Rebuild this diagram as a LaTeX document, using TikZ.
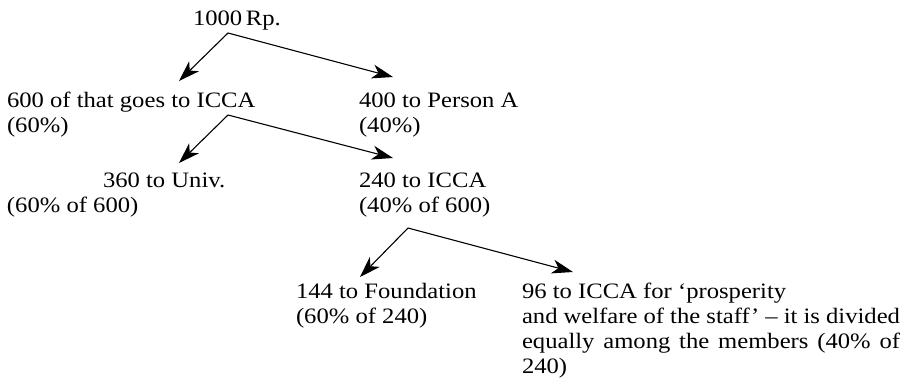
\documentclass[tikz,border=0pt]{standalone}
\usepackage{fontspec}
\setmainfont[FakeStretch=1.12]{Liberation Serif}
\usetikzlibrary{arrows.meta}
\begin{document}
\begin{tikzpicture}[x=1pt,y=-1pt,
  lbl/.style={anchor=base west,inner sep=0pt,outer sep=0pt,font=\fontsize{22}{25}\selectfont},
  flow/.style={line width=1.1pt,-{Stealth[length=21pt,width=14pt,inset=6pt]}}]
\useasboundingbox (0,0) rectangle (909,389);
\node[lbl] (n1000) at (193,25) {1000\,Rp.};
\node[lbl] (n600) at (7,107) {\begin{tabular}[t]{@{}l@{}}600 of that goes to ICCA\\(60\%)\end{tabular}};
\node[lbl] (n400) at (359,107) {\begin{tabular}[t]{@{}l@{}}400 to Person A\\(40\%)\end{tabular}};
\node[lbl] (n360) at (7,187) {\begin{tabular}[t]{@{}l@{}}\hspace*{96pt}360 to Univ.\\(60\% of 600)\end{tabular}};
\node[lbl] (n240) at (359,187) {\begin{tabular}[t]{@{}l@{}}240 to ICCA\\(40\% of 600)\end{tabular}};
\node[lbl] (n144) at (296,298) {\begin{tabular}[t]{@{}l@{}}144 to Foundation\\(60\% of 240)\end{tabular}};
\node[lbl] (n96) at (522,298) {\parbox[t]{378pt}{\fontsize{22}{25}\selectfont\parindent=0pt\emergencystretch=20pt
96 to ICCA for `prosperity\newline
and welfare of the staff' -- it is divided\linebreak
equally among the members (40\% of\linebreak
240)}};
\coordinate (s1) at (228,33);
\coordinate (s2) at (228,115);
\coordinate (s3) at (408,228);
\coordinate (t600) at (179,81);
\coordinate (t400) at (393,77);
\coordinate (t360) at (179,163);
\coordinate (t240) at (393,158);
\coordinate (t144) at (360,277);
\coordinate (t96) at (573,272);
\draw[flow] (s1) -- (t600);
\draw[flow] (s1) -- (t400);
\draw[flow] (s2) -- (t360);
\draw[flow] (s2) -- (t240);
\draw[flow] (s3) -- (t144);
\draw[flow] (s3) -- (t96);
\end{tikzpicture}
\end{document}
